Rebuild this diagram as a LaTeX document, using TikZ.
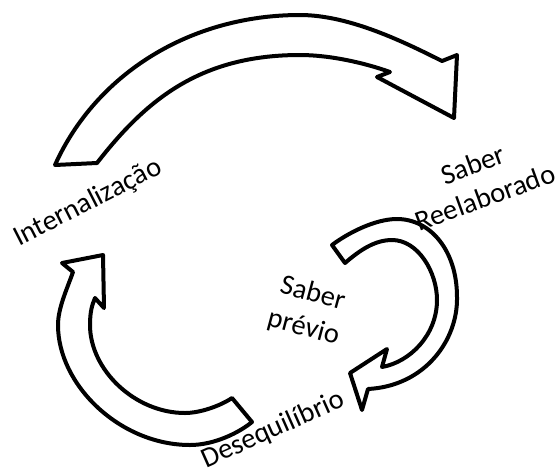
\documentclass[tikz,border=0pt]{standalone}
\usepackage{fontspec}
\setmainfont{Carlito}

\tikzset{
  arrowbody/.style={draw, fill=white, line width=4pt, line join=round},
  lbl/.style={font=\fontsize{28.5}{35}\selectfont, align=center, inner sep=0pt}
}

\begin{document}
\begin{tikzpicture}[x=1pt,y=-1pt]
\useasboundingbox (0,0) rectangle (560,475);

% upper arrow
\draw[arrowbody] (55,165) .. controls (96,74) and (190,15) .. (300,15)
  .. controls (350,15) and (406,43) .. (442,61)
  -- (457,55) -- (454,118) -- (377,77) -- (390,72)
  .. controls (365,63) and (330,55) .. (300,55)
  .. controls (200,55) and (146,100) .. (97,163)
  -- cycle;

% left arrow
\draw[arrowbody] (232,398) .. controls (220,406) and (200,413) .. (185,413)
  .. controls (135,413) and (90,370) .. (90,325)
  .. controls (90,312) and (92,305) .. (95,298)
  -- (104,308) -- (103,255) -- (62,263) -- (73,272)
  .. controls (67,289) and (58,308) .. (58,325)
  .. controls (58,385) and (120,445) .. (190,445)
  .. controls (215,445) and (240,432) .. (252,422)
  -- cycle;

% right arrow
\draw[arrowbody] (345,263) .. controls (360,250) and (375,240) .. (392,240)
  .. controls (418,240) and (437,272) .. (437,300)
  .. controls (437,335) and (410,362) .. (382,367)
  -- (387,349) -- (350,373) -- (362,410) -- (368,389)
  .. controls (425,386) and (458,340) .. (457,297)
  .. controls (457,250) and (430,219) .. (397,219)
  .. controls (375,219) and (348,233) .. (332,245)
  -- cycle;

\node[lbl, rotate=27] (intern) at (88,203) {Internalização};
\node[lbl, rotate=20] (reelab) at (479,181) {Saber\\Reelaborado};
\node[lbl, rotate=-15] (previo) at (308,311) {Saber\\prévio};
\node[lbl, rotate=24] (deseq) at (273,430) {Desequilíbrio};
\end{tikzpicture}
\end{document}
